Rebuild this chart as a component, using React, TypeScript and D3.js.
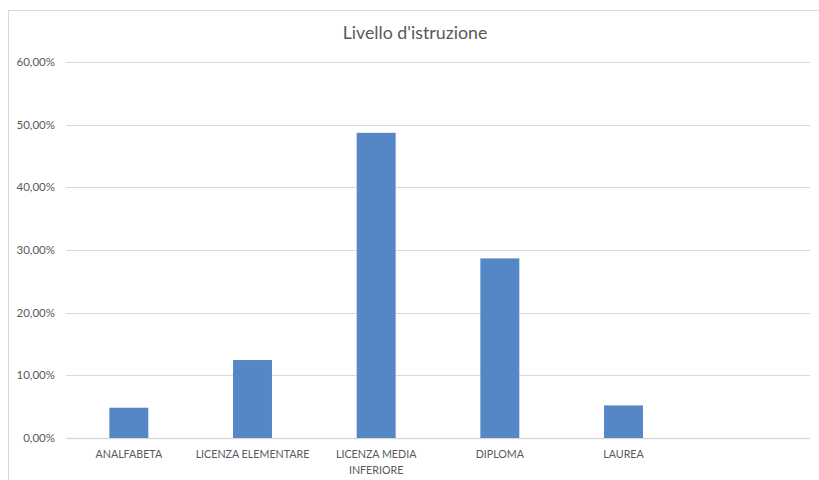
import React from "react";
import * as d3 from "d3";

// Education level shares
const categories: string[] = ["ANALFABETA", "LICENZA ELEMENTARE", "LICENZA MEDIA INFERIORE", "DIPLOMA", "LAUREA"];
const values: number[] = [0.0483, 0.1244, 0.487, 0.2866, 0.052];
// axis slots (one trailing empty slot)
const slots: string[] = [...categories, ""];
const yTicks: number[] = [0, 0.1, 0.2, 0.3, 0.4, 0.5, 0.6];
const title = "Livello d'istruzione";

// Wrapped axis labels
const labelLines: Record<string, string[]> = {
  "LICENZA MEDIA INFERIORE": ["LICENZA MEDIA", "INFERIORE"],
};

const W = 819;
const H = 480;
const left = 66;
const right = 808;
const top = 62;
const bottom = 438;
const font = "Lato, 'Open Sans', sans-serif";
const textColor = "#595959";
const gridColor = "#d9d9d9";
const barColor = "#5586c6";

export default function App() {
  const x = d3.scaleBand<string>().domain(slots).range([left + 1, right + 1]).padding(0);
  const y = d3.scaleLinear().domain([0, 0.6]).range([bottom, top]);
  const barW = x.bandwidth() * 0.315;
  const fmt = (v: number) => (v * 100).toFixed(2).replace(".", ",") + "%";

  return (
    <svg
      width={W}
      height={H}
      style={{ position: "absolute", left: 0, top: 0, background: "#fff" }}
    >
      <rect x={8.5} y={10.5} width={W + 20} height={H + 20} fill="#fff" stroke={gridColor} strokeWidth={1} />
      <text x={415} y={39} textAnchor="middle" fontFamily={font} fontSize={17.8} fill={textColor}>
        {title}
      </text>
      {yTicks.map((t) => (
        <g key={t}>
          <line
            x1={left}
            x2={right + 2}
            y1={Math.round(y(t)) + 0.5}
            y2={Math.round(y(t)) + 0.5}
            stroke={gridColor}
            strokeWidth={t === 0 ? 1.3 : 1}
          />
          <text
            x={55}
            y={y(t) + 4}
            textAnchor="end"
            fontFamily={font}
            fontSize={11.5}
            fill={textColor}
          >
            {fmt(t)}
          </text>
        </g>
      ))}
      {categories.map((c, i) => {
        const cx = (x(c) as number) + x.bandwidth() / 2;
        return (
          <rect
            key={c}
            x={cx - barW / 2}
            y={y(values[i])}
            width={barW}
            height={bottom - y(values[i])}
            fill={barColor}
          />
        );
      })}
      {categories.map((c) => {
        const cx = (x(c) as number) + x.bandwidth() / 2;
        const lines = labelLines[c] || [c];
        return (
          <text key={c} textAnchor="middle" fontFamily={font} fontSize={10.7} fill={textColor}>
            {lines.map((l, j) => (
              <tspan key={j} x={cx} y={458 + j * 16}>
                {l}
              </tspan>
            ))}
          </text>
        );
      })}
    </svg>
  );
}
